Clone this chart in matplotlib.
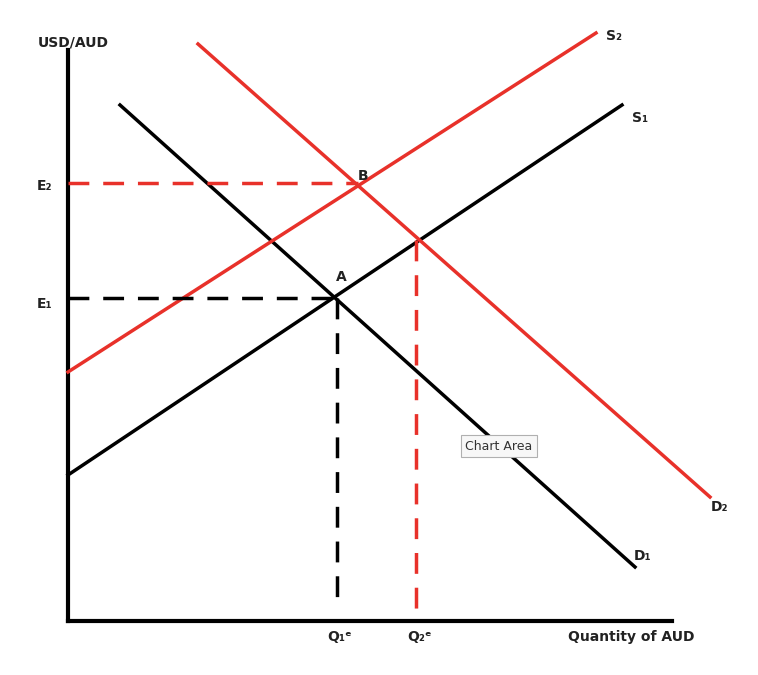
import matplotlib
matplotlib.use("Agg")
import matplotlib.pyplot as plt

# Lines as (x0, y0, x1, y1) in image-like units (y downward)
S1 = [68, 475, 622, 105]
S2 = [68, 372, 596, 33]
D1 = [120, 105, 635, 567]
D2 = [198, 44, 710, 497]
A = (337, 298)
B = (358, 183)
C = (416, 240)
origin = (68, 621)

fig = plt.figure(figsize=(7.58, 6.75), dpi=100)
ax = fig.add_axes([0, 0, 1, 1])
ax.set_xlim(0, 758)
ax.set_ylim(675, 0)
ax.axis("off")

ax.plot([68, 68], [50, 621], color="black", lw=3)
ax.plot([68, 672], [621, 621], color="black", lw=3)

for ln, c in [(S1, "black"), (D1, "black"), (S2, "#e8312a"), (D2, "#e8312a")]:
    ax.plot([ln[0], ln[2]], [ln[1], ln[3]], color=c, lw=2.5)

ax.plot([68, A[0]], [A[1], A[1]], "--", color="black", lw=2.5, dashes=(6, 4))
ax.plot([A[0], A[0]], [A[1], 610], "--", color="black", lw=2.5, dashes=(6, 4))
ax.plot([68, B[0]], [B[1], B[1]], "--", color="#e8312a", lw=2.5, dashes=(6, 4))
ax.plot([C[0], C[0]], [C[1], 618], "--", color="#e8312a", lw=2.5, dashes=(6, 4))

fs = 10
kw = dict(fontsize=fs, fontweight="bold", color="#222222")
ax.text(38, 43, "USD/AUD", ha="left", va="center", **kw)
ax.text(45, 186, "E₂", ha="center", va="center", **kw)
ax.text(45, 304, "E₁", ha="center", va="center", **kw)
ax.text(340, 637, "Q₁ᵉ", ha="center", va="center", **kw)
ax.text(420, 637, "Q₂ᵉ", ha="center", va="center", **kw)
ax.text(631, 637, "Quantity of AUD", ha="center", va="center", **kw)
ax.text(614, 36, "S₂", ha="center", va="center", **kw)
ax.text(640, 118, "S₁", ha="center", va="center", **kw)
ax.text(720, 507, "D₂", ha="center", va="center", **kw)
ax.text(643, 556, "D₁", ha="center", va="center", **kw)
ax.text(341, 277, "A", ha="center", va="center", **kw)
ax.text(363, 176, "B", ha="center", va="center", **kw)
ax.text(499, 446, "Chart Area", ha="center", va="center", fontsize=9, color="#333333",
        bbox=dict(boxstyle="square,pad=0.35", fc="#f7f7f7", ec="#b0b0b0", lw=0.8))

fig.savefig("out.png", dpi=100)
